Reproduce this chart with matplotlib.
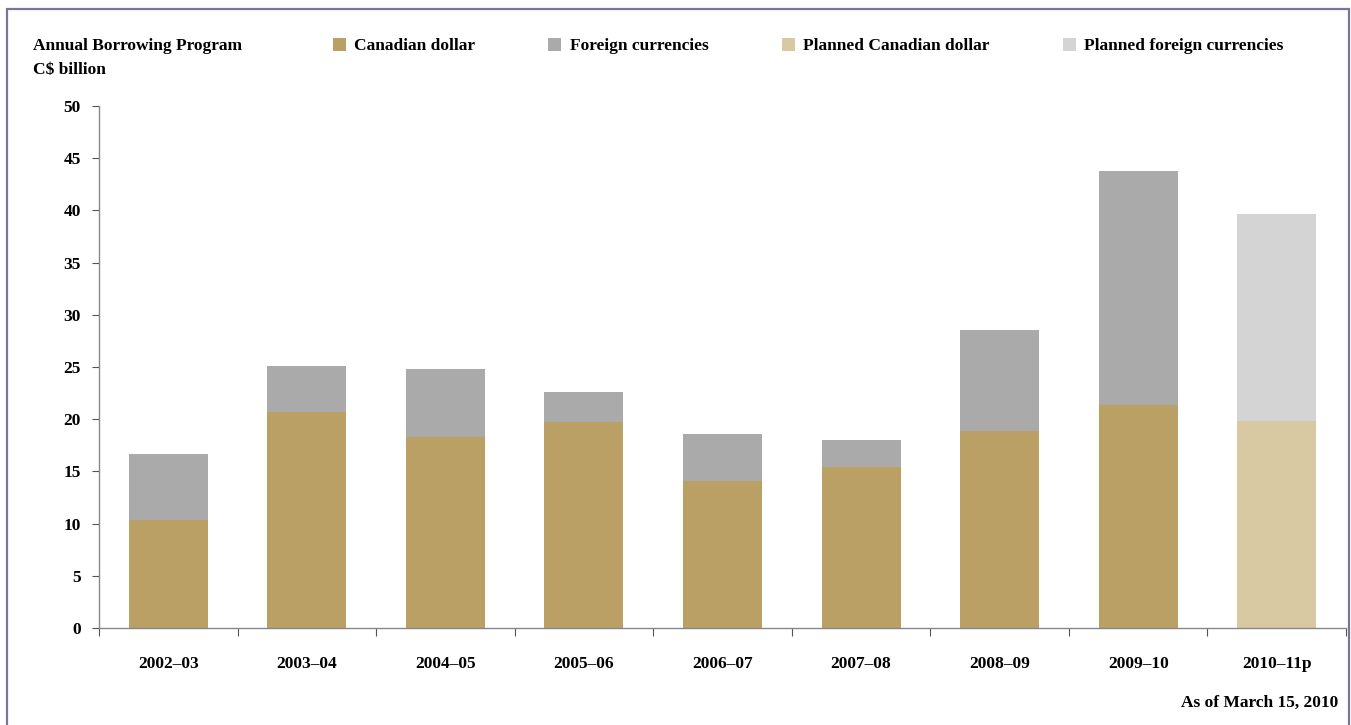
import matplotlib
matplotlib.use("Agg")
import matplotlib.pyplot as plt
from matplotlib.patches import Rectangle

categories = ["2002–03", "2003–04", "2004–05", "2005–06", "2006–07",
              "2007–08", "2008–09", "2009–10", "2010–11p"]
canadian = [10.3, 20.7, 18.3, 19.7, 14.1, 15.4, 18.9, 21.4, None]
foreign = [6.4, 4.4, 6.5, 2.9, 4.5, 2.6, 9.6, 22.4, None]
planned_canadian = [None] * 8 + [19.8]
planned_foreign = [None] * 8 + [19.9]
yticks = [0, 5, 10, 15, 20, 25, 30, 35, 40, 45, 50]

c_cad = "#BBA066"
c_for = "#AAAAAA"
c_pcad = "#D8C9A3"
c_pfor = "#D4D4D4"

plt.rcParams['font.family'] = ['Liberation Serif', 'DejaVu Serif']
plt.rcParams['font.weight'] = 'bold'
FS = 12.5

W, H = 1351, 725
fig = plt.figure(figsize=(W / 100, H / 100), dpi=100)
fig.patches.append(Rectangle((7 / W, -0.05), (1349 - 7) / W, 1.05 - 9 / H,
                             transform=fig.transFigure, fill=False,
                             edgecolor="#7A7596", linewidth=1.6))

ax = fig.add_axes([99 / W, 1 - 628 / H, (1346 - 99) / W, (628 - 106) / H])
x = list(range(len(categories)))
bw = 0.57
xa = [i for i in x if canadian[i] is not None]
ax.bar(xa, [canadian[i] for i in xa], bw, color=c_cad, label="Canadian dollar")
ax.bar(xa, [foreign[i] for i in xa], bw, bottom=[canadian[i] for i in xa],
       color=c_for, label="Foreign currencies")
xp = [i for i in x if planned_canadian[i] is not None]
ax.bar(xp, [planned_canadian[i] for i in xp], bw, color=c_pcad,
       label="Planned Canadian dollar")
ax.bar(xp, [planned_foreign[i] for i in xp], bw,
       bottom=[planned_canadian[i] for i in xp], color=c_pfor,
       label="Planned foreign currencies")

ax.set_xlim(-0.5, len(categories) - 0.5)
ax.set_ylim(0, 50)
ax.set_yticks(yticks)
ax.set_yticklabels([str(v) for v in yticks], fontsize=FS, fontweight='bold')
ax.set_xticks([i - 0.5 for i in range(len(categories) + 1)])
ax.set_xticklabels([])
ax.set_xticks(x, minor=True)
ax.set_xticklabels(categories, minor=True, fontsize=FS, fontweight='bold')
ax.tick_params(axis='x', which='minor', length=0, pad=20)
ax.tick_params(axis='x', which='major', length=6, direction='out', color="#555555")
ax.tick_params(axis='y', length=5, direction='out', color="#555555", pad=8)
for s in ["top", "right"]:
    ax.spines[s].set_visible(False)
for s in ["left", "bottom"]:
    ax.spines[s].set_color("#888888")
    ax.spines[s].set_linewidth(1)

fig.text(33 / W, 1 - 46 / H, "Annual Borrowing Program", fontsize=FS,
         fontweight='bold', va='center', ha='left')
fig.text(33 / W, 1 - 70 / H, "C$ billion", fontsize=FS,
         fontweight='bold', va='center', ha='left')
fig.text(1338 / W, 1 - 703 / H, "As of March 15, 2010", fontsize=FS,
         fontweight='bold', va='center', ha='right')

handles, labels = ax.get_legend_handles_labels()
leg = fig.legend(handles, labels, ncol=4, loc='center left',
                 bbox_to_anchor=(324 / W, 1 - 46 / H), frameon=False,
                 fontsize=FS, handlelength=0.75, handleheight=0.75,
                 handletextpad=0.5, columnspacing=4.2, borderpad=0)

fig.savefig("out.png", dpi=100)
